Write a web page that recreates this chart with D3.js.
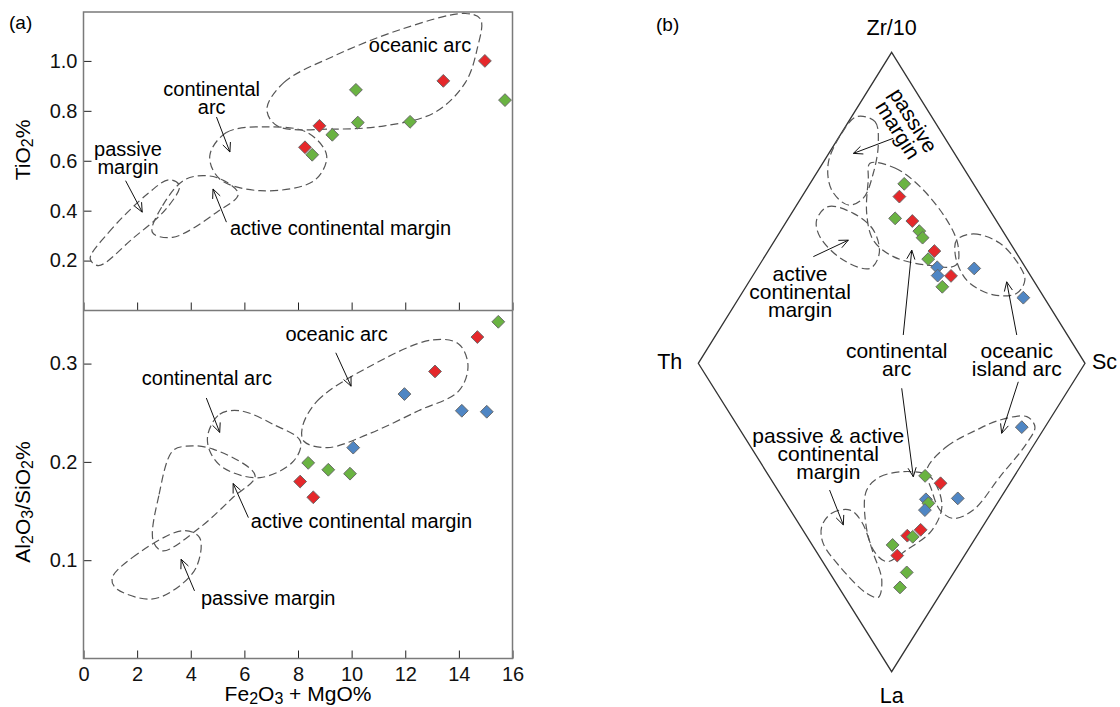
<!DOCTYPE html>
<html>
<head>
<meta charset="utf-8">
<script src="https://cdn.jsdelivr.net/npm/d3@7"></script>
<style>
  body { margin: 0; background: #fff; }
  svg { font-family: "Liberation Sans", Arial, sans-serif; }
  .frame { fill: none; stroke: #7a7a7a; stroke-width: 1.5; }
  .tri { fill: none; stroke: #333; stroke-width: 1.3; }
  .field { fill: none; stroke: #555; stroke-width: 1.2; stroke-dasharray: 8, 4; }
  .arrow { fill: none; stroke: #111; stroke-width: 1; }
  .sample { stroke: #666; stroke-width: 0.9; }
</style>
</head>
<body>
<svg width="1120" height="707"></svg>
<script>
// ticks
const xTicks = [0, 2, 4, 6, 8, 10, 12, 14, 16];
const tiTicks = [0.2, 0.4, 0.6, 0.8, 1.0];
const alTicks = [0.1, 0.2, 0.3];

const groupColor = { r: "#e5282b", g: "#6ab342", b: "#4f86c4" };

// [Fe2O3+MgO, TiO2, group]
const tiData = [
  [8.26, 0.654, "r"], [8.53, 0.624, "g"], [8.80, 0.74, "r"], [9.28, 0.704, "g"],
  [10.16, 0.884, "g"], [10.23, 0.753, "g"], [12.18, 0.756, "g"], [13.42, 0.92, "r"],
  [14.97, 1.0, "r"], [15.72, 0.843, "g"]
];
// [Fe2O3+MgO, Al2O3/SiO2, group]
const alData = [
  [8.08, 0.18, "r"], [8.57, 0.164, "r"], [8.38, 0.199, "g"], [9.13, 0.192, "g"],
  [9.94, 0.188, "g"], [10.06, 0.2145, "b"], [11.97, 0.269, "b"], [13.11, 0.292, "r"],
  [14.11, 0.252, "b"], [15.04, 0.251, "b"], [14.69, 0.327, "r"], [15.47, 0.3425, "g"]
];
// [Th, Sc, Zr/10, group]
const thScZr = [
  [17.9, 24.4, 57.7, "g"], [21.2, 25.2, 53.6, "r"], [25.8, 27.6, 46.6, "g"], [21.8, 32.5, 45.8, "r"],
  [21.6, 35.9, 42.5, "g"], [21.8, 37.8, 40.4, "g"], [20.9, 43.0, 36.1, "r"], [23.8, 42.7, 33.5, "g"],
  [22.8, 46.4, 30.9, "b"], [24.0, 47.8, 28.2, "b"], [20.6, 51.3, 28.1, "r"], [24.6, 50.8, 24.6, "g"],
  [13.4, 56.1, 30.5, "b"], [5.4, 73.5, 21.1, "b"]
];
// [Th, Sc, La, group]
const thScLa = [
  [6.0, 73.3, 20.7, "b"], [23.1, 40.4, 36.5, "g"], [17.9, 43.2, 38.9, "r"], [11.0, 45.2, 43.8, "b"],
  [19.1, 36.8, 44.1, "b"], [17.8, 36.8, 45.4, "g"], [17.6, 34.8, 47.6, "b"], [15.5, 30.5, 54.0, "r"],
  [18.0, 26.1, 55.9, "r"], [16.4, 27.3, 56.2, "g"], [20.3, 20.8, 58.9, "g"], [17.4, 20.3, 62.4, "r"],
  [12.2, 20.0, 67.8, "g"], [11.5, 15.8, 72.6, "g"]
];

// tectonic setting fields
const tiFields = [
  [[6.84, 0.807], [7.47, 0.913], [9.35, 1.02], [11.86, 1.127], [14.24, 1.19], [14.81, 1.167],
   [14.68, 1.047], [14.24, 0.913], [13.11, 0.794], [11.23, 0.74], [9.35, 0.727], [7.22, 0.74]],
  [[4.71, 0.62], [5.33, 0.713], [6.84, 0.736], [8.35, 0.713], [9.07, 0.62], [8.6, 0.52], [6.59, 0.48], [5.08, 0.527]],
  [[2.57, 0.313], [2.95, 0.42], [3.83, 0.527], [4.96, 0.533], [5.77, 0.467], [4.96, 0.393], [3.32, 0.293]],
  [[0.25, 0.207], [0.94, 0.313], [2.45, 0.473], [3.2, 0.524], [3.58, 0.5], [3.08, 0.407], [1.82, 0.287], [0.56, 0.18]]
];
const alFields = [
  [[8.16, 0.235], [8.72, 0.262], [10.6, 0.296], [12.99, 0.324], [13.99, 0.32], [14.34, 0.298],
   [13.99, 0.272], [12.49, 0.252], [10.6, 0.228], [9.1, 0.2145], [8.22, 0.221]],
  [[4.64, 0.228], [5.08, 0.2485], [5.84, 0.252], [7.09, 0.238], [8.09, 0.221], [7.84, 0.201],
   [6.59, 0.184], [5.21, 0.194], [4.71, 0.211]],
  [[2.6, 0.1196], [2.82, 0.167], [3.32, 0.211], [3.83, 0.216], [4.83, 0.213], [6.4, 0.186],
   [5.58, 0.164], [4.33, 0.133], [2.95, 0.1095]],
  [[1.07, 0.082], [1.82, 0.1026], [3.7, 0.13], [4.33, 0.123], [4.2, 0.0925], [3.32, 0.0688], [2.45, 0.0603], [1.19, 0.072]]
];
const zrFields = [
  [[19.4, 1.3, 79.3], [15.45, 6.85, 77.7], [18.1, 11.2, 70.7], [24.2, 14.7, 61.1], [30.8, 16.1, 53.1],
   [35.75, 13.35, 50.9], [37.65, 6.65, 55.7], [34.25, 1.45, 64.3], [25.9, 0.1, 74.0]],
  [[23.45, 12.25, 64.3], [17.75, 19.45, 62.8], [14.25, 28.95, 56.8], [12.7, 41.2, 46.1], [13.85, 48.15, 38.0],
   [17.55, 50.85, 31.6], [25.15, 43.25, 31.6], [32.4, 33.3, 34.3], [34.95, 25.45, 39.6], [32.35, 19.45, 48.2], [26.6, 14.5, 58.9]],
  [[46.35, 7.55, 46.1], [41.2, 8.4, 50.4], [35.8, 16.0, 48.2], [33.3, 23.8, 42.9], [35.5, 29.1, 35.4],
   [40.35, 29.15, 30.5], [45.9, 20.9, 33.2], [48.2, 11.1, 40.7]],
  [[13.4, 47.0, 39.6], [8.1, 50.3, 41.6], [2.7, 58.7, 38.6], [1.25, 67.65, 31.1], [2.15, 71.05, 26.8],
   [6.4, 71.1, 22.5], [12.7, 65.3, 22.0], [16.9, 57.4, 25.7], [17.3, 52.7, 30.0], [15.9, 48.7, 35.4]]
];
const laFields = [
  [[41.6, 5.4, 53.0], [41.2, 10.2, 48.6], [36.95, 15.45, 47.6], [32.05, 16.55, 51.4], [23.95, 14.45, 61.6],
   [17.4, 12.3, 70.3], [15.5, 8.6, 75.9], [19.15, 6.25, 74.6], [30.35, 3.65, 66.0], [38.5, 3.1, 58.4]],
  [[35.9, 23.0, 41.1], [34.6, 28.6, 36.8], [27.7, 37.2, 35.1], [21.65, 41.55, 36.8], [14.05, 40.05, 45.9],
   [12.5, 33.4, 54.1], [15.85, 23.65, 60.5], [19.15, 16.55, 64.3], [24.5, 15.0, 60.5], [32.05, 18.25, 49.7]],
  [[23.65, 41.75, 34.6], [22.25, 50.75, 27.0], [17.2, 61.2, 21.6], [12.8, 68.8, 18.4], [6.4, 76.3, 17.3],
   [2.65, 76.75, 20.6], [2.1, 72.0, 25.9], [3.6, 59.6, 36.8], [5.1, 47.3, 47.6], [8.9, 40.8, 50.3],
   [13.7, 38.7, 47.6], [19.1, 39.8, 41.1]]
];

// field labels and arrows
const tiLabels = [
  { t: ["oceanic arc"], x: 12.55, y: 1.064 },
  { t: ["continental", "arc"], x: 4.78, y: 0.851 },
  { t: ["passive", "margin"], x: 1.66, y: 0.611 },
  { t: ["active continental margin"], x: 5.46, y: 0.331, anchor: "start" }
];
const alLabels = [
  { t: ["oceanic arc"], x: 9.44, y: 0.3305 },
  { t: ["continental arc"], x: 4.6, y: 0.285 },
  { t: ["active continental margin"], x: 6.24, y: 0.14, anchor: "start" },
  { t: ["passive margin"], x: 6.89, y: 0.062 }
];
const tiArrows = [
  [[4.96, 0.775], [5.46, 0.635]], [[1.57, 0.52], [2.19, 0.394]], [[5.33, 0.354], [4.83, 0.487]]
];
const alArrows = [
  [[9.41, 0.311], [9.98, 0.277]], [[4.58, 0.265], [5.08, 0.23]],
  [[6.15, 0.1433], [5.58, 0.178]], [[4.14, 0.0688], [3.64, 0.101]]
];
// diamond frame coords: u = across (-1 Th .. 1 Sc), v = up (1 Zr/10, -1 La)
const terLabels = [
  { t: ["passive", "margin"], u: 0.073, v: 0.766, rot: 58 },
  { t: ["active", "continental", "margin"], u: -0.474, v: 0.23 },
  { t: ["continental", "arc"], u: 0.026, v: 0.0106 },
  { t: ["oceanic", "island arc"], u: 0.647, v: 0.0106 },
  { t: ["passive & active", "continental", "margin"], u: -0.328, v: -0.292 }
];
const terArrows = [
  [[0.0085, 0.7235], [-0.198, 0.675]], [[-0.405, 0.343], [-0.224, 0.396]],
  [[0.06, 0.091], [0.104, 0.364]], [[0.647, 0.091], [0.595, 0.262]],
  [[-0.321, -0.411], [-0.25, -0.524]], [[0.052, -0.081], [0.112, -0.368]],
  [[0.655, -0.06], [0.569, -0.227]]
];

const svg = d3.select("svg");

const x = d3.scaleLinear().domain([0, 16]).range([83.5, 512.5]);
const yTi = d3.scaleLinear().domain([0, 1.196]).range([310.5, 12]);
const yAl = d3.scaleLinear().domain([0, 0.354]).range([658.5, 310.5]);

const u = d3.scaleLinear().domain([-1, 1]).range([698.3, 1085]);
const v = d3.scaleLinear().domain([-1, 0, 1]).range([671.7, 363.3, 52.3]);
const upper = (p) => { const s = p[0] + p[1] + p[2]; return [u((p[1] - p[0]) / s), v(p[2] / s)]; };
const lower = (p) => { const s = p[0] + p[1] + p[2]; return [u((p[1] - p[0]) / s), v(-p[2] / s)]; };

const closed = d3.line().curve(d3.curveCatmullRomClosed.alpha(0.5));
const marker = d3.symbol().type(d3.symbolSquare).size(82);

function arrowPath(p, q) {
  const a = Math.atan2(q[1] - p[1], q[0] - p[0]), L = 10, s = 0.42;
  const h1 = [q[0] - L * Math.cos(a - s), q[1] - L * Math.sin(a - s)];
  const h2 = [q[0] - L * Math.cos(a + s), q[1] - L * Math.sin(a + s)];
  return "M" + p + "L" + q + "M" + h1 + "L" + q + "L" + h2;
}

function label(d, px, py, size, lh) {
  const t = svg.append("text")
    .attr("font-size", size)
    .attr("text-anchor", d.anchor || "middle")
    .attr("transform", `translate(${px},${py})` + (d.rot ? ` rotate(${d.rot})` : ""));
  d.t.forEach((line, i) => {
    t.append("tspan").attr("x", 0)
      .attr("y", (i - (d.t.length - 1) / 2) * lh)
      .attr("dy", "0.35em").text(line);
  });
}

function drawSamples(data, pos) {
  svg.append("g").selectAll("path")
    .data(data)
    .join("path")
    .attr("class", "sample")
    .attr("d", marker)
    .attr("fill", (d) => groupColor[d[d.length - 1]])
    .attr("transform", (d) => { const p = pos(d); return `translate(${p[0]},${p[1]}) rotate(45)`; });
}

// ---- panel (a) ----
function styleAxis(g, size) {
  g.select(".domain").remove();
  g.attr("font-family", null).attr("font-size", size);
  g.selectAll(".tick line").attr("stroke", "#222");
  g.selectAll(".tick text").attr("fill", "#111");
}
svg.append("g").attr("transform", "translate(83.5,0)")
  .call(d3.axisLeft(yTi).tickValues(tiTicks).tickFormat(d3.format(".1f")).tickSizeInner(-8).tickSizeOuter(0).tickPadding(6))
  .call(styleAxis, 20);
svg.append("g").attr("transform", "translate(83.5,0)")
  .call(d3.axisLeft(yAl).tickValues(alTicks).tickFormat(d3.format(".1f")).tickSizeInner(-8).tickSizeOuter(0).tickPadding(6))
  .call(styleAxis, 20);
svg.append("g").attr("transform", "translate(0,310.5)")
  .call(d3.axisBottom(x).tickValues(xTicks).tickFormat("").tickSizeInner(-8).tickSizeOuter(0))
  .call(styleAxis, 20);
svg.append("g").attr("transform", "translate(0,658.5)")
  .call(d3.axisBottom(x).tickValues(xTicks).tickSizeInner(-8).tickSizeOuter(0).tickPadding(8))
  .call(styleAxis, 20);

svg.append("rect").attr("class", "frame")
  .attr("x", x(0)).attr("y", yTi.range()[1])
  .attr("width", x(16) - x(0)).attr("height", yAl.range()[0] - yTi.range()[1]);
svg.append("line").attr("class", "frame")
  .attr("x1", x(0)).attr("x2", x(16)).attr("y1", yTi(0)).attr("y2", yTi(0));

svg.append("g").selectAll("path").data(tiFields).join("path")
  .attr("class", "field").attr("d", (f) => closed(f.map((p) => [x(p[0]), yTi(p[1])])));
svg.append("g").selectAll("path").data(alFields).join("path")
  .attr("class", "field").attr("d", (f) => closed(f.map((p) => [x(p[0]), yAl(p[1])])));
svg.append("g").selectAll("path").data(tiArrows).join("path")
  .attr("class", "arrow").attr("d", (a) => arrowPath([x(a[0][0]), yTi(a[0][1])], [x(a[1][0]), yTi(a[1][1])]));
svg.append("g").selectAll("path").data(alArrows).join("path")
  .attr("class", "arrow").attr("d", (a) => arrowPath([x(a[0][0]), yAl(a[0][1])], [x(a[1][0]), yAl(a[1][1])]));

tiLabels.forEach((d) => label(d, x(d.x), yTi(d.y), 20, 18));
alLabels.forEach((d) => label(d, x(d.x), yAl(d.y), 20, 18));

drawSamples(tiData, (d) => [x(d[0]), yTi(d[1])]);
drawSamples(alData, (d) => [x(d[0]), yAl(d[1])]);

// axis titles with subscripts
function title(parts, tx, ty, rot) {
  const t = svg.append("text").attr("font-size", 21).attr("text-anchor", "middle")
    .attr("transform", `translate(${tx},${ty})` + (rot ? ` rotate(${rot})` : ""));
  parts.forEach((p) => {
    if (p.sub) t.append("tspan").attr("font-size", 16).attr("dy", 3).text(p.sub);
    else t.append("tspan").attr("dy", p.back ? -3 : 0).text(p.s);
  });
}
title([{ s: "TiO" }, { sub: "2" }, { s: "%", back: 1 }], 30, 150, -90);
title([{ s: "Al" }, { sub: "2" }, { s: "O", back: 1 }, { sub: "3" }, { s: "/SiO", back: 1 }, { sub: "2" }, { s: "%", back: 1 }], 30, 502, -90);
title([{ s: "Fe" }, { sub: "2" }, { s: "O", back: 1 }, { sub: "3" }, { s: " + MgO%", back: 1 }], 298, 701, 0);

svg.append("text").attr("x", 9).attr("y", 29).attr("font-size", 19).text("(a)");

// ---- panel (b) ----
svg.append("path").attr("class", "tri")
  .attr("d", "M" + [upper([0, 0, 100]), upper([0, 100, 0]), lower([0, 0, 100]), upper([100, 0, 0])].join("L") + "Z");

svg.append("g").selectAll("path").data(zrFields).join("path")
  .attr("class", "field").attr("d", (f) => closed(f.map(upper)));
svg.append("g").selectAll("path").data(laFields).join("path")
  .attr("class", "field").attr("d", (f) => closed(f.map(lower)));
svg.append("g").selectAll("path").data(terArrows).join("path")
  .attr("class", "arrow").attr("d", (a) => arrowPath([u(a[0][0]), v(a[0][1])], [u(a[1][0]), v(a[1][1])]));

terLabels.forEach((d) => label(d, u(d.u), v(d.v), 21, 18.2));

drawSamples(thScZr, upper);
drawSamples(thScLa, lower);

const zrTop = upper([0, 0, 100]), thLeft = upper([100, 0, 0]), scRight = upper([0, 100, 0]), laBottom = lower([0, 0, 100]);
svg.append("text").attr("font-size", 21.5).attr("text-anchor", "middle").attr("x", zrTop[0]).attr("y", zrTop[1] - 17).text("Zr/10");
svg.append("text").attr("font-size", 21.5).attr("text-anchor", "end").attr("x", thLeft[0] - 16).attr("y", thLeft[1] + 6).text("Th");
svg.append("text").attr("font-size", 21.5).attr("text-anchor", "start").attr("x", scRight[0] + 7).attr("y", scRight[1] + 6).text("Sc");
svg.append("text").attr("font-size", 21.5).attr("text-anchor", "middle").attr("x", laBottom[0]).attr("y", laBottom[1] + 31).text("La");

svg.append("text").attr("x", 656).attr("y", 31).attr("font-size", 19).text("(b)");
</script>
</body>
</html>
